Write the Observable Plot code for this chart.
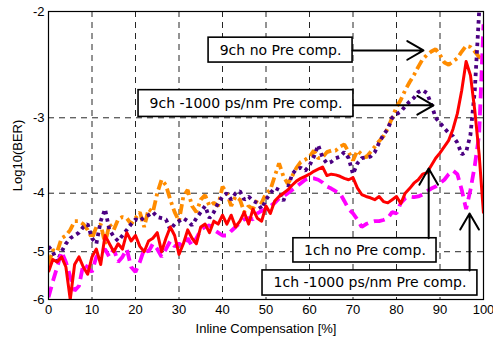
<!DOCTYPE html>
<html><head><meta charset="utf-8">
<script src="https://cdn.jsdelivr.net/npm/d3@7"></script>
<script src="https://cdn.jsdelivr.net/npm/@observablehq/plot@0.6"></script>
<style>body{margin:0;background:#fff}</style>
</head><body><div id="chart"></div>
<script>
// Inline compensation [%]
const pct = [0,1,2,3,4,5,6,7,8,9,10,11,12,13,14,15,16,17,18,19,20,21,22,23,24,25,26,27,28,29,30,31,32,33,34,35,36,37,38,39,40,41,42,43,44,45,46,47,48,49,50,51,52,53,54,55,56,57,58,59,60,61,62,63,64,65,66,67,68,69,70,71,72,73,74,75,76,77,78,79,80,81,82,83,84,85,86,87,88,89,90,91,92,93,94,95,96,97,98,99,100];

// Log10(BER) series
const ch9NoPre = [
-5.25,-4.97,-5.0,-4.75,-4.7,-4.6,-4.45,-4.45,-4.5,-4.6,
-4.75,-4.55,-4.5,-4.85,-4.5,-4.6,-4.42,-4.38,-4.4,-4.5,
-4.4,-4.3,-4.55,-4.25,-4.3,-4.0,-3.8,-3.88,-4.1,-4.3,
-4.45,-4.05,-3.95,-4.2,-4.3,-4.1,-4.03,-4.2,-4.15,-4.2,
-3.9,-4.0,-4.2,-4.05,-4.1,-4.3,-4.2,-4.25,-4.1,-4.15,
-4.0,-3.95,-3.75,-3.57,-3.75,-3.86,-3.75,-3.63,-3.55,-3.52,
-3.48,-3.4,-3.5,-3.49,-3.42,-3.4,-3.4,-3.35,-3.32,-3.42,
-3.53,-3.4,-3.45,-3.49,-3.42,-3.35,-3.28,-3.22,-3.12,-3.0,
-2.88,-2.8,-2.7,-2.62,-2.55,-2.47,-2.4,-2.36,-2.33,-2.31,
-2.36,-2.43,-2.45,-2.42,-2.39,-2.33,-2.28,-2.29,-2.33,-2.38,
-2.39];
const ch9Pre = [
-4.9,-5.0,-5.2,-5.0,-4.85,-4.75,-4.7,-4.65,-4.55,-4.5,
-4.75,-4.85,-4.45,-4.25,-4.6,-4.72,-4.8,-4.7,-4.6,-4.5,
-4.42,-4.45,-4.38,-4.35,-4.3,-4.38,-4.4,-4.42,-4.6,-4.5,
-4.45,-4.4,-4.45,-4.52,-4.4,-4.3,-4.2,-4.4,-4.3,-4.15,
-4.05,-4.0,-4.1,-4.0,-3.97,-4.1,-4.05,-4.12,-4.15,-4.25,
-4.1,-4.0,-3.92,-3.95,-4.12,-3.93,-3.72,-3.65,-3.63,-3.67,
-3.6,-3.48,-3.33,-3.49,-3.57,-3.55,-3.5,-3.48,-3.42,-3.5,
-3.72,-3.57,-3.5,-3.49,-3.48,-3.42,-3.3,-3.2,-3.13,-3.0,
-2.96,-2.93,-2.87,-2.82,-2.78,-2.72,-2.7,-2.73,-2.85,-3.0,
-3.06,-3.12,-3.18,-3.22,-3.3,-3.45,-3.42,-3.2,-2.7,-2.0,
null];
const ch1NoPre = [
-5.4,-5.15,-5.2,-5.1,-5.3,-6.0,-5.25,-5.1,-5.3,-5.45,
-5.1,-4.95,-5.25,-4.7,-4.85,-5.0,-4.85,-4.95,-4.65,-4.8,
-4.7,-4.9,-5.0,-4.8,-4.75,-4.65,-5.0,-4.75,-4.55,-4.7,
-5.05,-4.85,-4.6,-4.75,-4.85,-4.55,-4.5,-4.65,-4.45,-4.5,
-4.35,-4.5,-4.35,-4.55,-4.45,-4.3,-4.5,-4.25,-4.4,-4.45,
-4.2,-4.32,-4.12,-4.05,-4.0,-3.95,-3.88,-3.82,-3.78,-3.75,
-3.72,-3.68,-3.65,-3.62,-3.74,-3.72,-3.73,-3.75,-3.78,-3.8,
-3.77,-3.92,-4.02,-4.05,-4.07,-4.1,-4.05,-4.13,-4.15,-4.1,
-4.05,-4.16,-4.0,-3.93,-3.85,-3.8,-3.72,-3.7,-3.6,-3.5,
-3.43,-3.35,-3.27,-3.13,-2.95,-2.7,-2.42,-2.55,-2.92,-3.45,
-4.32];
const ch1Pre = [
-5.95,-5.6,-5.3,-5.0,-5.2,-5.5,-5.8,-5.7,-5.25,-5.3,
-5.4,-5.1,-5.0,-4.95,-5.1,-4.95,-5.2,-5.1,-4.95,-5.3,
-5.4,-5.2,-4.95,-5.0,-4.85,-4.95,-5.1,-4.95,-4.8,-4.9,
-4.85,-4.9,-4.75,-4.9,-4.75,-4.6,-4.55,-4.52,-4.6,-4.65,
-4.7,-4.7,-4.62,-4.55,-4.48,-4.42,-4.4,-4.42,-4.32,-4.28,
-4.25,-4.2,-4.15,-4.08,-4.05,-4.0,-3.95,-3.9,-3.85,-3.8,
-3.78,-3.78,-3.8,-3.84,-3.9,-3.93,-3.97,-4.0,-4.12,-4.25,
-4.32,-4.42,-4.55,-4.5,-4.47,-4.45,-4.45,-4.43,-4.4,-4.3,
-4.32,-4.15,-4.08,-4.05,-4.06,-4.05,-4.02,-3.97,-3.93,-3.9,
-3.85,-3.8,-3.72,-3.67,-3.72,-3.95,-4.25,-3.95,-3.6,-3.2,
-2.1];

// Axis ticks
const xTicks = [0,10,20,30,40,50,60,70,80,90,100];
const yTicks = [-2,-3,-4,-5,-6];

// Annotations (data coordinates)
const labelText = ["9ch no Pre comp.", "9ch -1000 ps/nm Pre comp.", "1ch no Pre comp.", "1ch -1000 ps/nm Pre comp."];
const boxX1 = [36.8, 20.7, 56.3, 49.2];
const boxX2 = [69.9, 70.1, 89.2, 98.6];
const boxTop = [-2.21, -2.70, -4.75, -5.37];
const boxBottom = [-2.43, -2.99, -5.21, -5.91];
const labelY = [-2.32, -2.84, -4.98, -5.63];
const arrowX1 = [69.9, 70.1, 87.4, 96.8];
const arrowY1 = [-2.32, -2.86, -4.75, -5.37];
const arrowX2 = [86.2, 88.5, 87.4, 96.8];
const arrowY2 = [-2.32, -2.86, -3.64, -4.32];

const rows = vals => pct.map((x, i) => ({x, v: vals[i]})).filter(d => d.v != null);
const notes = labelText.map((t, i) => ({t, x1: boxX1[i], x2: boxX2[i], top: boxTop[i], bottom: boxBottom[i], ly: labelY[i],
  ax1: arrowX1[i], ay1: arrowY1[i], ax2: arrowX2[i], ay2: arrowY2[i]}));

const Y = v => -v; // y scale works on -log10(BER) with log spacing

const lineOpts = {x: "x", y: d => Y(d.v), strokeLinecap: "butt", strokeLinejoin: "miter", clip: true};

const chart = Plot.plot({
  width: 493, height: 338,
  marginLeft: 48, marginRight: 10, marginTop: 11, marginBottom: 39,
  style: {fontFamily: "'Liberation Sans', Arial, sans-serif", fontSize: "13px", background: "#fff", color: "#000"},
  x: {domain: [0, 100], ticks: xTicks, tickSize: 0, tickPadding: 5, label: "Inline Compensation [%]", labelAnchor: "center", labelOffset: 33, labelArrow: "none"},
  y: {type: "log", domain: [2, 6], reverse: true, ticks: yTicks.map(Y), tickFormat: d => String(-d), tickSize: 0, tickPadding: 4,
      label: "Log10(BER)", labelAnchor: "center", labelOffset: 36, labelArrow: "none"},
  marks: [
    Plot.gridX(xTicks, {stroke: "#000", strokeOpacity: 0.85, strokeDasharray: "6,5"}),
    Plot.gridY(yTicks.map(Y), {stroke: "#000", strokeOpacity: 0.85, strokeDasharray: "6,5"}),
    Plot.line(rows(ch9NoPre), {...lineOpts, stroke: "#ff8c00", strokeWidth: 3.8, strokeDasharray: "10,4,3,4"}),
    Plot.line(rows(ch9Pre), {...lineOpts, stroke: "#4b0082", strokeWidth: 3.8, strokeDasharray: "3.5,4"}),
    Plot.line(rows(ch1Pre), {...lineOpts, stroke: "#ff00ff", strokeWidth: 3.8, strokeDasharray: "11,6"}),
    Plot.line(rows(ch1NoPre), {...lineOpts, stroke: "#ff0000", strokeWidth: 3, strokeLinejoin: "round"}),
    Plot.frame({stroke: "#000", strokeWidth: 1.2}),
    Plot.rect(notes, {x1: "x1", x2: "x2", y1: d => Y(d.top), y2: d => Y(d.bottom), fill: "#fff", stroke: "#000", strokeWidth: 1.6}),
    Plot.text(notes, {x: d => (d.x1 + d.x2) / 2, y: d => Y(d.ly), text: "t", fontFamily: "'DejaVu Sans', Verdana, sans-serif", fontSize: 14, fill: "#000"}),
    Plot.arrow(notes, {x1: "ax1", y1: d => Y(d.ay1), x2: "ax2", y2: d => Y(d.ay2), stroke: "#000", strokeWidth: 2, headLength: 14})
  ]
});
document.getElementById("chart").appendChild(chart);
</script>
</body></html>
